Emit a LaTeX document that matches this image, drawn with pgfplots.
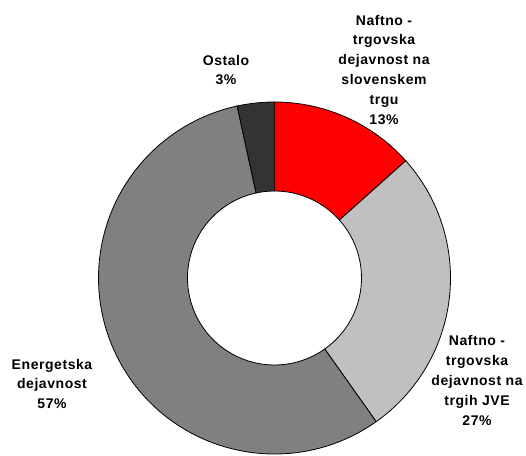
\documentclass[border=0pt]{standalone}
\usepackage{pgfplots}
\usepackage{pgfplotstable}
\pgfplotsset{compat=1.18}
\usetikzlibrary{calc}
\usepackage{fontspec}
\setmainfont{Liberation Sans}
\definecolor{pieA}{HTML}{FF0000}
\definecolor{pieB}{HTML}{C0C0C0}
\definecolor{pieC}{HTML}{808080}
\definecolor{pieD}{HTML}{333333}
\pgfplotstableread{
share colour
13.4 pieA
26.8 pieB
56.4 pieC
3.4 pieD
}\piedata
\newcommand\lbl{\fontsize{14}{19.8}\selectfont\bfseries\addfontfeature{LetterSpace=4}}
\begin{document}
\begin{tikzpicture}
\begin{axis}[
  at={(0pt,0pt)}, anchor=south west,
  x=1pt, y=1pt, scale only axis,
  xmin=0, xmax=526, ymin=0, ymax=455,
  hide axis, clip=false]
\gdef\cum{0}
\pgfplotsforeachungrouped \i in {0,...,3}{%
  \pgfplotstablegetelem{\i}{share}\of\piedata \let\s\pgfplotsretval
  \pgfplotstablegetelem{\i}{colour}\of\piedata \let\c\pgfplotsretval
  \pgfmathsetmacro\a{90-3.6*\cum}%
  \pgfmathsetmacro\cumnew{\cum+\s}%
  \pgfmathsetmacro\b{90-3.6*\cumnew}%
  \edef\temp{\noexpand\filldraw[fill=\c, draw=black, line width=0.8pt]
    ($(axis cs:274.5,177)+(\a:176pt)$) arc[start angle=\a, end angle=\b, radius=176pt]
    -- ($(axis cs:274.5,177)+(\b:87pt)$) arc[start angle=\b, end angle=\a, radius=87pt] -- cycle;}%
  \temp
  \global\let\cum\cumnew
}
\node[anchor=north, align=center, inner sep=0pt, font=\lbl] at (axis cs:384,440.2)
  {Naftno -\\trgovska\\dejavnost na\\slovenskem\\trgu\\13\%};
\node[anchor=north, align=center, inner sep=0pt, font=\lbl] at (axis cs:477,119.5)
  {Naftno -\\trgovska\\dejavnost na\\trgih JVE\\27\%};
\node[anchor=north, align=center, inner sep=0pt, font=\lbl] at (axis cs:226,400.2)
  {Ostalo\\3\%};
\node[anchor=north, align=center, inner sep=0pt, font=\lbl] at (axis cs:52,96.2)
  {Energetska\\dejavnost\\57\%};
\end{axis}
\pgfresetboundingbox
\path (0pt,0pt) rectangle (526pt,455pt);
\end{tikzpicture}
\end{document}
